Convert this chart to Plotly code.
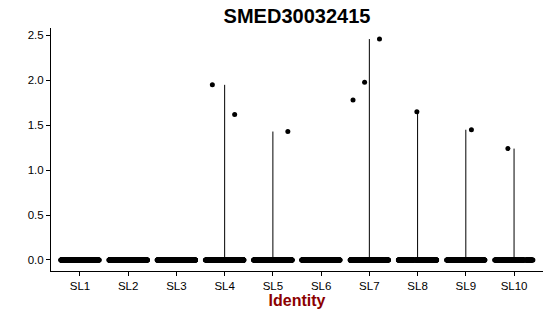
import plotly.graph_objects as go

clusters = ["SL1", "SL2", "SL3", "SL4", "SL5", "SL6", "SL7", "SL8", "SL9", "SL10"]
zero_cells = [300, 300, 290, 280, 270, 290, 260, 250, 240, 180]
nonzero_values = [
    [],
    [],
    [],
    [1.95, 1.62],
    [1.43],
    [],
    [2.46, 1.98, 1.78],
    [1.65],
    [1.45],
    [1.24],
]
y_ticks = [0.0, 0.5, 1.0, 1.5, 2.0, 2.5]

zx, zy, nx, ny = [], [], [], []
for c, nz, vals in zip(clusters, zero_cells, nonzero_values):
    zx += [c] * nz
    zy += [0.0] * nz
    nx += [c] * len(vals)
    ny += vals

fig = go.Figure()

# violin outlines (collapsed to thin lines because almost every cell is zero)
for c, vals in zip(clusters, nonzero_values):
    if vals:
        fig.add_trace(go.Scatter(
            x=[c, c], y=[0, max(vals)], mode="lines",
            line=dict(color="black", width=1), hoverinfo="skip", showlegend=False))

for px_, py_ in ((zx, zy), (nx, ny)):
    fig.add_trace(go.Box(
        x=px_, y=py_, boxpoints="all", jitter=1, pointpos=0, width=0.8,
        fillcolor="rgba(0,0,0,0)", line=dict(width=0, color="rgba(0,0,0,0)"),
        marker=dict(color="black", size=5, opacity=1, line=dict(width=0)),
        hoverinfo="skip", showlegend=False))

fig.update_layout(
    width=550, height=316,
    margin=dict(l=51, r=7, t=28, b=45),
    paper_bgcolor="white", plot_bgcolor="white",
    font=dict(family="Liberation Sans, Arial, sans-serif", color="black"),
    title=dict(text="<b>SMED30032415</b>", x=(51 + 543) / 2 / 550, xanchor="center",
               y=1 - 16 / 316, yanchor="middle", font=dict(size=20, color="black")),
    showlegend=False,
    boxmode="overlay",
)
fig.update_xaxes(
    type="category", categoryorder="array", categoryarray=clusters,
    range=[-0.6, 9.6], showline=True, linecolor="black", linewidth=1,
    ticks="outside", ticklen=4, tickcolor="black", showgrid=False, zeroline=False,
    tickfont=dict(size=11.5, color="black"),
    title=dict(text="<b>Identity</b>", font=dict(size=16, color="#8B0000"), standoff=3),
)
fig.update_yaxes(
    range=[-0.123, 2.583], tickvals=y_ticks, ticktext=[f"{v:.1f}" for v in y_ticks],
    showline=True, linecolor="black", linewidth=1, ticks="outside", ticklen=4,
    tickcolor="black", showgrid=False, zeroline=False,
    tickfont=dict(size=11.5, color="black"),
)

fig.write_html("out.html")
